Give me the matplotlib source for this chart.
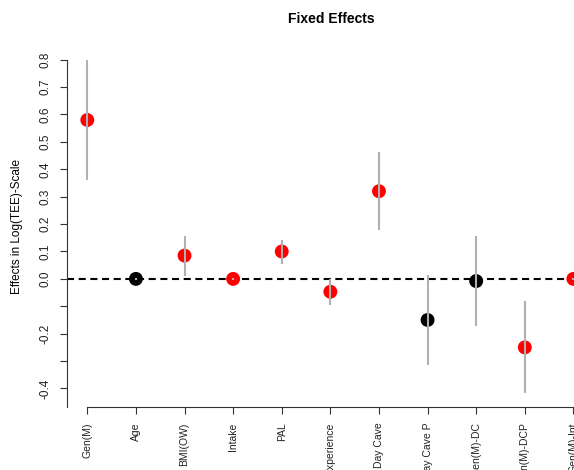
import matplotlib
matplotlib.use("Agg")
import matplotlib.pyplot as plt

plt.rcParams["font.family"] = ["Liberation Sans", "DejaVu Sans"]

# fixed effect estimates
terms = ["Gen(M)", "Age", "BMI(OW)", "Intake", "PAL", "Experience",
         "Day Cave", "Day Cave P", "Gen(M)-DC", "Gen(M)-DCP", "Gen(M)-Int"]
estimates = [0.58, 0.0, 0.085, 0.0, 0.10, -0.047, 0.32, -0.15, -0.008, -0.25, 0.0]
lower = [0.36, -0.004, 0.012, -0.004, 0.056, -0.095, 0.178, -0.313, -0.172, -0.418, -0.004]
upper = [0.80, 0.004, 0.157, 0.004, 0.142, 0.0, 0.462, 0.013, 0.157, -0.082, 0.004]
point_colors = ["red", "black", "red", "red", "red", "red",
                "red", "black", "black", "red", "red"]

y_ticks = [-0.4, -0.3, -0.2, -0.1, 0.0, 0.1, 0.2, 0.3, 0.4, 0.5, 0.6, 0.7, 0.8]
y_ticklabels = ["-0.4", "", "-0.2", "", "0.0", "0.1", "0.2", "0.3",
                "0.4", "0.5", "0.6", "0.7", "0.8"]

fig = plt.figure(figsize=(5.74, 4.70), dpi=100)
# plot region runs past the right edge, as in the cropped original
ax = fig.add_axes([67 / 574, 63 / 470, 555 / 574, 361 / 470])

xs = list(range(1, len(terms) + 1))

ax.axhline(0, color="black", lw=1.5, dashes=(3.4, 2.2), zorder=1)
ax.scatter(xs, estimates, s=100, c=point_colors, edgecolors="none", zorder=2)
ax.vlines(xs, lower, upper, color="#b0b0b0", lw=1.5, zorder=3)

ax.set_xlim(1 - 20.3 / 48.6, 12.0)
ax.set_ylim(-0.4676, 0.85)

for side in ["top", "right"]:
    ax.spines[side].set_visible(False)
ax.spines["left"].set_bounds(-0.4676, 0.8)
ax.spines["bottom"].set_bounds(1, 12)
for side in ["left", "bottom"]:
    ax.spines[side].set_linewidth(0.8)
    ax.spines[side].set_color("#333333")

ax.set_yticks(y_ticks)
ax.set_yticklabels(y_ticklabels, rotation=90, va="center", fontsize=8.5, color="#222222")
ax.set_xticks(xs)
ax.set_xticklabels(terms, rotation=90, fontsize=7.5, color="#222222")
ax.tick_params(axis="both", length=5, width=0.8, color="#333333")
ax.tick_params(axis="y", pad=6)
ax.tick_params(axis="x", pad=6)

ax.set_ylabel("Effects in Log(TEE)-Scale", fontsize=8.5)
ax.yaxis.set_label_coords(-44 / 555, 0.5)

fig.text(331 / 574, 1 - 19 / 470, "Fixed Effects", ha="center", va="center",
         fontsize=10, fontweight="bold")

plt.savefig("out.png", dpi=100)
plt.close()
